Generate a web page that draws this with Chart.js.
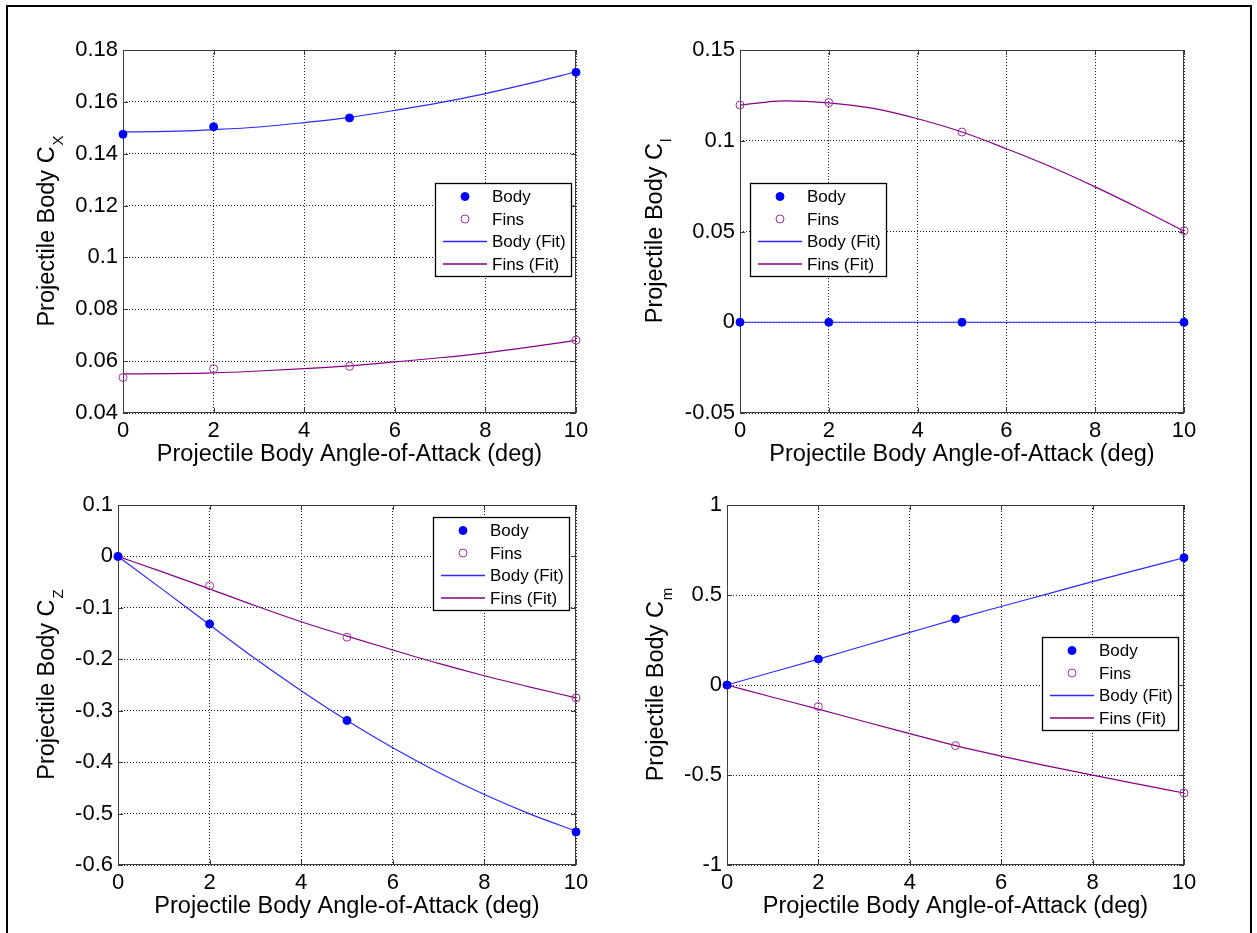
<!DOCTYPE html>
<html>
<head>
<meta charset="utf-8">
<title>Projectile body coefficients</title>
<script src="https://cdn.jsdelivr.net/npm/chart.js@4/dist/chart.umd.min.js"></script>
<style>
  html, body { margin: 0; padding: 0; background: #fff; }
  body { width: 1257px; height: 933px; position: relative; overflow: hidden; }
  #frame { position: fixed; left: 6px; right: 5px; top: 5px; bottom: -20px; border: 2px solid #000; }
  canvas { position: absolute; left: 0; top: 0; }
</style>
</head>
<body>
<div id="frame"></div>
<canvas id="cx" width="1257" height="933"></canvas>
<canvas id="cl" width="1257" height="933"></canvas>
<canvas id="cz" width="1257" height="933"></canvas>
<canvas id="cm" width="1257" height="933"></canvas>
<script>
'use strict';

//angle-of-attack stations: measured points and the fitted curve samples
const alphaPts = [0, 2, 5, 10];
const alphaFit = [0, 1, 2, 3, 4, 5, 6, 7, 8, 9, 10];
const xTicks = [0, 2, 4, 6, 8, 10];
const seriesNames = ['Body', 'Fins', 'Body (Fit)', 'Fins (Fit)'];

//axial force C_X
const cxBody = [0.1475, 0.1504, 0.1538, 0.1714];
const cxFins = [0.0537, 0.0571, 0.0580, 0.0681];
const cxBodyFit = [0.1484, 0.1486, 0.1493, 0.1503, 0.1520, 0.1540, 0.1567, 0.1597, 0.1632, 0.1672, 0.1716];
const cxFinsFit = [0.0551, 0.0552, 0.0555, 0.0562, 0.0571, 0.0582, 0.0597, 0.0613, 0.0632, 0.0655, 0.0680];
const cxTicks = [0.04, 0.06, 0.08, 0.1, 0.12, 0.14, 0.16, 0.18];

//roll moment C_l
const clBody = [0, 0, 0, 0];
const clFins = [0.1197, 0.1210, 0.1048, 0.0504];
const clBodyFit = [0, 0, 0, 0, 0, 0, 0, 0, 0, 0, 0];
const clFinsFit = [0.1197, 0.1220, 0.1209, 0.1178, 0.1121, 0.1048, 0.0956, 0.0857, 0.0746, 0.0627, 0.0502];
const clTicks = [-0.05, 0, 0.05, 0.1, 0.15];

//normal force C_Z
const czBody = [0, -0.1313, -0.3189, -0.5356];
const czFins = [0, -0.057, -0.157, -0.275];
const czBodyFit = [0, -0.066, -0.133, -0.199, -0.261, -0.319, -0.372, -0.420, -0.463, -0.501, -0.534];
const czFinsFit = [0, -0.031, -0.063, -0.096, -0.127, -0.155, -0.182, -0.208, -0.232, -0.254, -0.275];
const czTicks = [-0.6, -0.5, -0.4, -0.3, -0.2, -0.1, 0, 0.1];

//pitch moment C_m
const cmBody = [0, 0.144, 0.367, 0.707];
const cmFins = [0, -0.120, -0.337, -0.600];
const cmBodyFit = [0, 0.072, 0.144, 0.218, 0.292, 0.366, 0.436, 0.505, 0.574, 0.641, 0.707];
const cmFinsFit = [0, -0.068, -0.134, -0.203, -0.270, -0.337, -0.395, -0.449, -0.501, -0.551, -0.600];
const cmTicks = [-1, -0.5, 0, 0.5, 1];

const bodyColor = '#0000ff';
const bodyLineColor = '#2a2aff';
const finsMarkerColor = '#a0309f';
const finsLineColor = '#850085';
const fontFamily = '"Liberation Sans", Arial, Helvetica, sans-serif';

function pairs(xs, ys){
  return xs.map((x, i) => ({x: x, y: ys[i]}));
}

//tick labels the way matlab prints them (0.1 not 0.10)
function fmt(v){
  return String(Number(Number(v).toFixed(4)));
}

//box, inward ticks, legend and subscripted y label
const matlabAxes = {
  id: 'matlabAxes',
  beforeDatasetsDraw(chart, args, opts){
    const {ctx, chartArea: c, scales} = chart;
    ctx.save();
    ctx.strokeStyle = '#3a3a3a';
    ctx.lineWidth = 1;
    ctx.strokeRect(c.left + 0.5, c.top + 0.5, c.width - 1, c.height - 1);
    ctx.beginPath();
    for(let v of xTicks){
      let px = Math.round(scales.x.getPixelForValue(v)) + 0.5;
      ctx.moveTo(px, c.bottom); ctx.lineTo(px, c.bottom - 5);
      ctx.moveTo(px, c.top); ctx.lineTo(px, c.top + 5);
    }
    for(let v of opts.ticks){
      let py = Math.round(scales.y.getPixelForValue(v)) + 0.5;
      ctx.moveTo(c.left, py); ctx.lineTo(c.left + 5, py);
      ctx.moveTo(c.right, py); ctx.lineTo(c.right - 5, py);
    }
    ctx.stroke();
    ctx.restore();
  },
  afterDraw(chart, args, opts){
    const {ctx, chartArea: c} = chart;
    ctx.save();

    //legend box
    const lg = opts.legend;
    ctx.fillStyle = '#fff';
    ctx.fillRect(lg.x, lg.y, 137, 94);
    ctx.strokeStyle = '#000';
    ctx.lineWidth = 1.3;
    ctx.strokeRect(lg.x + 0.5, lg.y + 0.5, 136, 93);
    ctx.font = '17px ' + fontFamily;
    ctx.textBaseline = 'middle';
    ctx.textAlign = 'left';
    chart.data.datasets.forEach((ds, i) => {
      let yy = lg.y + 13.5 + 22.5 * i;
      if(ds.showLine){
        ctx.strokeStyle = ds.borderColor;
        ctx.lineWidth = 1.5;
        ctx.beginPath();
        ctx.moveTo(lg.x + 8, yy); ctx.lineTo(lg.x + 52, yy);
        ctx.stroke();
      } else {
        ctx.beginPath();
        ctx.arc(lg.x + 30, yy, 4, 0, Math.PI * 2);
        if(ds.pointBackgroundColor !== 'rgba(0,0,0,0)'){
          ctx.fillStyle = ds.pointBackgroundColor;
          ctx.fill();
        }
        ctx.strokeStyle = ds.pointBorderColor;
        ctx.lineWidth = 1;
        ctx.stroke();
      }
      ctx.fillStyle = '#000';
      ctx.fillText(ds.label, lg.x + 57, yy + 1);
    });

    //rotated y label with subscript
    const big = '23.5px ' + fontFamily;
    const small = '15px ' + fontFamily;
    ctx.translate(opts.titleX, (c.top + c.bottom) / 2);
    ctx.rotate(-Math.PI / 2);
    ctx.font = big;
    let w1 = ctx.measureText(opts.title).width;
    ctx.font = small;
    let w2 = ctx.measureText(opts.sub).width;
    let start = -(w1 + w2) / 2;
    ctx.fillStyle = '#000';
    ctx.font = big;
    ctx.fillText(opts.title, start, 0);
    ctx.font = small;
    ctx.fillText(opts.sub, start + w1 + 1, 11);
    ctx.restore();
  }
};

function makePanel(canvasId, spec){
  const a = spec.area;
  const yW = 70;
  const xH = 56;
  const yTicks = spec.ticks;

  const data = {
    datasets: [
      {
        label: seriesNames[0], data: pairs(alphaPts, spec.body), showLine: false,
        pointRadius: 4, pointBackgroundColor: bodyColor, pointBorderColor: bodyColor, pointBorderWidth: 1, clip: false
      },
      {
        label: seriesNames[1], data: pairs(alphaPts, spec.fins), showLine: false,
        pointRadius: 4, pointBackgroundColor: 'rgba(0,0,0,0)', pointBorderColor: finsMarkerColor, pointBorderWidth: 1, clip: false
      },
      {
        label: seriesNames[2], data: pairs(alphaFit, spec.bodyFit), showLine: true, pointRadius: 0,
        borderColor: bodyLineColor, borderWidth: 1.2, cubicInterpolationMode: 'monotone', clip: false
      },
      {
        label: seriesNames[3], data: pairs(alphaFit, spec.finsFit), showLine: true, pointRadius: 0,
        borderColor: finsLineColor, borderWidth: 1.2, cubicInterpolationMode: 'monotone', clip: false
      }
    ]
  };

  const gridOpts = {color: '#1a1a1a', lineWidth: 1, drawTicks: false};
  const borderOpts = {display: false, dash: [1, 2]};

  const config = {
    type: 'scatter',
    data: data,
    options: {
      responsive: false,
      animation: false,
      devicePixelRatio: 1,
      events: [],
      layout: {padding: {left: a.l - yW, top: a.t, right: 1257 - a.r, bottom: 933 - a.b - xH}},
      plugins: {
        legend: {display: false},
        tooltip: {enabled: false},
        matlabAxes: {ticks: yTicks, legend: spec.legend, title: 'Projectile Body C', sub: spec.sub, titleX: spec.titleX}
      },
      scales: {
        x: {
          type: 'linear', min: xTicks[0], max: xTicks[xTicks.length - 1],
          afterBuildTicks: s => { s.ticks = xTicks.map(v => ({value: v})); },
          afterFit: s => { s.height = xH; },
          grid: gridOpts, border: borderOpts,
          ticks: {color: '#000', font: {family: fontFamily, size: 22}, padding: 5, maxRotation: 0, autoSkip: false, callback: fmt},
          title: {display: true, text: 'Projectile Body Angle-of-Attack (deg)', color: '#000', font: {family: fontFamily, size: 23.5}, padding: {top: 0, bottom: 0}}
        },
        y: {
          type: 'linear', min: yTicks[0], max: yTicks[yTicks.length - 1],
          afterBuildTicks: s => { s.ticks = yTicks.map(v => ({value: v})); },
          afterFit: s => { s.width = yW; },
          grid: gridOpts, border: borderOpts,
          ticks: {color: '#000', font: {family: fontFamily, size: 22}, padding: 5, autoSkip: false, callback: fmt}
        }
      }
    },
    plugins: [matlabAxes]
  };

  return new Chart(document.getElementById(canvasId), config);
}

makePanel('cx', {
  area: {l: 123, t: 50, r: 576, b: 413}, ticks: cxTicks, sub: 'X', titleX: 48,
  legend: {x: 435, y: 183},
  body: cxBody, fins: cxFins, bodyFit: cxBodyFit, finsFit: cxFinsFit
});
makePanel('cl', {
  area: {l: 740, t: 50, r: 1184, b: 413}, ticks: clTicks, sub: 'l', titleX: 656,
  legend: {x: 750, y: 183},
  body: clBody, fins: clFins, bodyFit: clBodyFit, finsFit: clFinsFit
});
makePanel('cz', {
  area: {l: 118, t: 505, r: 576, b: 865}, ticks: czTicks, sub: 'Z', titleX: 48,
  legend: {x: 433, y: 517},
  body: czBody, fins: czFins, bodyFit: czBodyFit, finsFit: czFinsFit
});
makePanel('cm', {
  area: {l: 727, t: 505, r: 1184, b: 865}, ticks: cmTicks, sub: 'm', titleX: 657,
  legend: {x: 1042, y: 637},
  body: cmBody, fins: cmFins, bodyFit: cmBodyFit, finsFit: cmFinsFit
});
</script>
</body>
</html>
